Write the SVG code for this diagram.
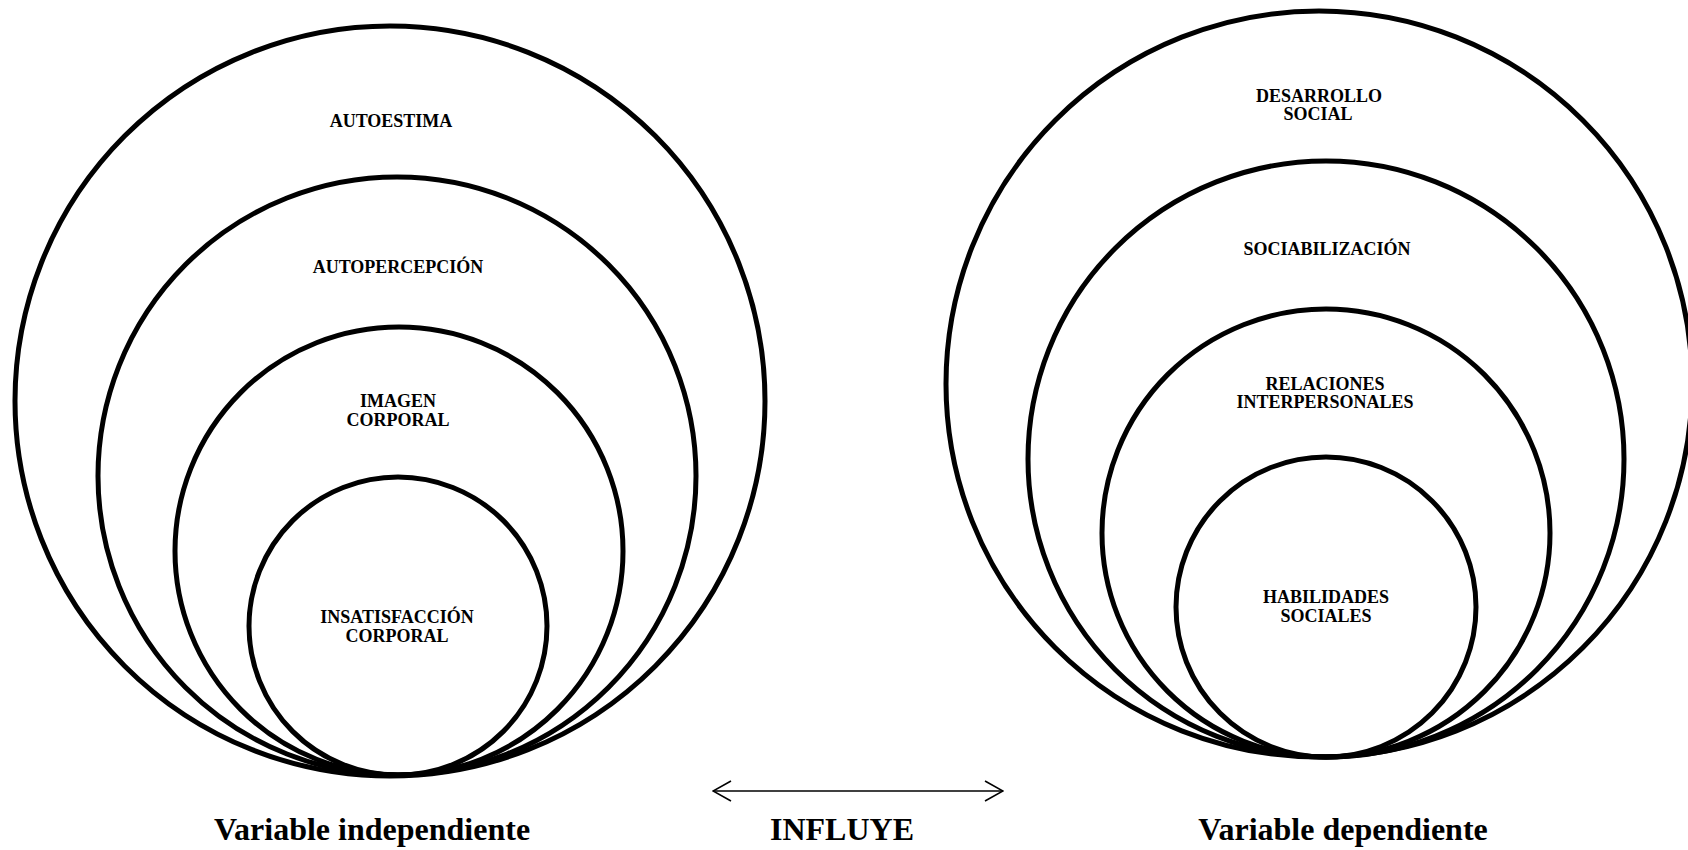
<svg xmlns="http://www.w3.org/2000/svg" width="1688" height="850" viewBox="0 0 1688 850">
<style>
.ring{fill:none;stroke:#000;stroke-width:5}
.lbl{font-family:"Liberation Serif","Times New Roman",serif;font-weight:bold;font-size:18px;text-anchor:middle;fill:#000}
.big{font-family:"Liberation Serif","Times New Roman",serif;font-weight:bold;font-size:32px;text-anchor:middle;fill:#000}
.conn{stroke:#000;stroke-width:1.6;fill:none}
</style>
<defs>
<marker id="chev" viewBox="0 0 20 22" refX="19" refY="11" markerWidth="20" markerHeight="22" markerUnits="userSpaceOnUse" orient="auto-start-reverse">
<path d="M1,1 L19,11 L1,21" fill="none" stroke="#000" stroke-width="1.6"/>
</marker>
</defs>
<rect width="1688" height="850" fill="#fff"/>
<g id="autoestima">
<circle class="ring" cx="390" cy="401" r="375"/>
<text class="lbl" x="391" y="127">AUTOESTIMA</text>
</g>
<g id="autopercepcion">
<circle class="ring" cx="397" cy="476" r="299"/>
<text class="lbl" x="398" y="273">AUTOPERCEPCIÓN</text>
</g>
<g id="imagen-corporal">
<circle class="ring" cx="399" cy="551" r="224"/>
<text class="lbl" x="398" y="407">IMAGEN</text>
<text class="lbl" x="398" y="426">CORPORAL</text>
</g>
<g id="insatisfaccion-corporal">
<circle class="ring" cx="398" cy="626" r="149"/>
<text class="lbl" x="397" y="623">INSATISFACCIÓN</text>
<text class="lbl" x="397" y="642">CORPORAL</text>
</g>
<g id="desarrollo-social">
<circle class="ring" cx="1319" cy="384" r="373"/>
<text class="lbl" x="1319" y="102">DESARROLLO</text>
<text class="lbl" x="1318" y="120">SOCIAL</text>
</g>
<g id="sociabilizacion">
<circle class="ring" cx="1326" cy="459" r="298"/>
<text class="lbl" x="1327" y="255">SOCIABILIZACIÓN</text>
</g>
<g id="relaciones-interpersonales">
<circle class="ring" cx="1326" cy="533" r="224"/>
<text class="lbl" x="1325" y="390">RELACIONES</text>
<text class="lbl" x="1325" y="408">INTERPERSONALES</text>
</g>
<g id="habilidades-sociales">
<circle class="ring" cx="1326" cy="607" r="150"/>
<text class="lbl" x="1326" y="603">HABILIDADES</text>
<text class="lbl" x="1326" y="622">SOCIALES</text>
</g>
<g id="connectors">
<line class="conn" x1="713" y1="791" x2="1003" y2="791" marker-start="url(#chev)" marker-end="url(#chev)"/>
</g>
<g id="captions">
<text class="big" x="372" y="840">Variable independiente</text>
<text class="big" x="842" y="840">INFLUYE</text>
<text class="big" x="1343" y="840">Variable dependiente</text>
</g>
</svg>
